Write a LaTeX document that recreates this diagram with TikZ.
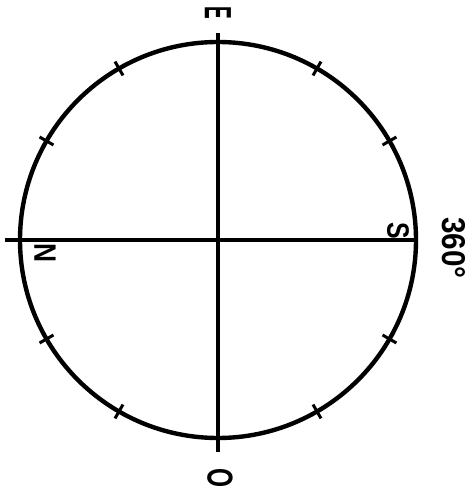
\documentclass[tikz,border=0pt]{standalone}
\usepackage{fontspec}
\newfontfamily\dialfont{Liberation Sans}
\tikzset{
  dial/.style={line width=4.4pt},
  axis/.style={line width=3.4pt},
  tick/.style={line width=3pt},
  lbl/.style={font=\dialfont\bfseries, rotate=-90, inner sep=0pt}
}
\begin{document}
\begin{tikzpicture}[x=1pt,y=1pt]
      \useasboundingbox (-218,-249) rectangle (257,240);
      \coordinate (c) at (0,0);
      \coordinate (top) at (0,207);
      \coordinate (bot) at (0,-212);
      \coordinate (west) at (-213,0);
      \coordinate (east) at (198,0);
      \draw[dial] (c) circle (198);
      \draw[axis] (top) -- (bot);
      \draw[axis] (west) -- (east);
      % ticks every 30 degrees
      \draw[tick] (30:190) -- (30:206);
      \draw[tick] (60:190) -- (60:206);
      \draw[tick] (120:190) -- (120:206);
      \draw[tick] (150:190) -- (150:206);
      \draw[tick] (210:190) -- (210:206);
      \draw[tick] (240:190) -- (240:206);
      \draw[tick] (300:190) -- (300:206);
      \draw[tick] (330:190) -- (330:206);
      % labels
      \draw
        (0,227) node[lbl] (E){\fontsize{38}{39}\selectfont\scalebox{0.5}[1]{E}}
        (2,-238) node[lbl] (O){\fontsize{36}{37}\selectfont\scalebox{0.68}[1]{O}}
        (-173,-13) node[lbl] (N){\fontsize{31}{32}\selectfont\scalebox{0.85}[1]{N}}
        (180,9) node[lbl] (S){\fontsize{31}{32}\selectfont\scalebox{0.8}[1]{S}}
        (236,-8) node[lbl] (deg){\fontsize{33}{34}\selectfont\scalebox{0.9}[1]{360\textdegree}};
    \end{tikzpicture}
\end{document}
